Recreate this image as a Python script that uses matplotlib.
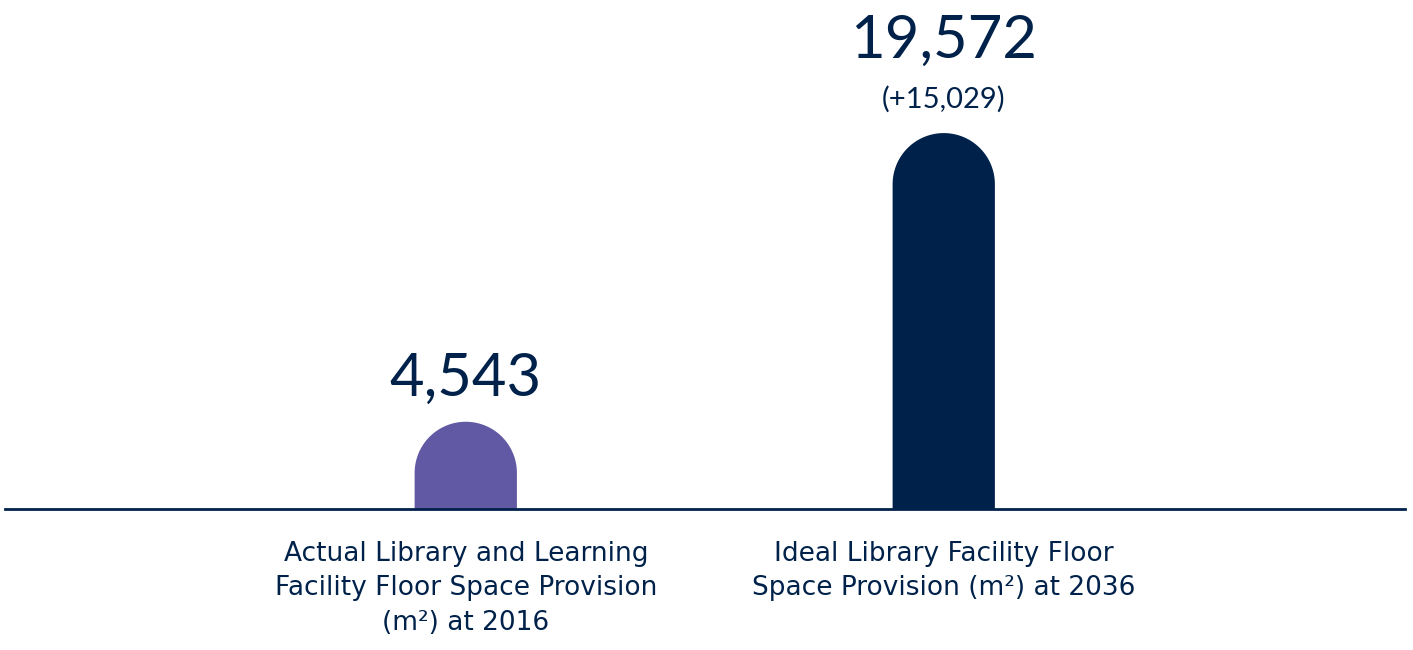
import numpy as np
import matplotlib.pyplot as plt
from matplotlib.path import Path
from matplotlib.patches import PathPatch

plt.rcParams['font.family'] = ['DejaVu Sans']

categories = ['Actual Library and Learning\nFacility Floor Space Provision\n(m²) at 2016',
              'Ideal Library Facility Floor\nSpace Provision (m²) at 2036']
values = [4543, 19572]
value_labels = ['4,543', '19,572']
change_labels = ['', '(+15,029)']
colors = ['#6159A3', '#00224A']
navy = '#00224A'

W, H = 1413, 650
fig = plt.figure(figsize=(W / 100, H / 100), dpi=100)
# axes: baseline spine at y=509px from top, spanning x 5..1405
ax = fig.add_axes([5 / W, (H - 509) / H, 1400 / W, 509 / H])

x = [0, 1]
bar_w = 0.214
xmin, xmax = -0.964, 1.965
ymax = 26500
ax.set_xlim(xmin, xmax)
ax.set_ylim(0, ymax)

# pixel scales so the rounded tops are true semicircles
px_x = 1400 / (xmax - xmin)
px_y = 509 / ymax
r_x = bar_w / 2
r_y = r_x * px_x / px_y


def rounded_bar(xc, top, color):
    t = np.linspace(0, np.pi, 60)
    arc_x = xc + r_x * np.cos(t)
    arc_y = top - r_y + r_y * np.sin(t)
    verts = [(xc - r_x, 0), (xc + r_x, 0)] + list(zip(arc_x, arc_y)) + [(xc - r_x, 0)]
    codes = [Path.MOVETO] + [Path.LINETO] * (len(verts) - 2) + [Path.CLOSEPOLY]
    ax.add_patch(PathPatch(Path(verts, codes), facecolor=color, lw=0))


for xi, v, c in zip(x, values, colors):
    rounded_bar(xi, v, c)

num_font = ['Lato', 'DejaVu Sans']
for xi, v, lab, ch in zip(x, values, value_labels, change_labels):
    if ch:
        ax.annotate(ch, (xi, v), xytext=(0, 18), textcoords='offset points',
                    ha='center', va='baseline', fontsize=21, color=navy, family=num_font)
        ax.annotate(lab, (xi, v), xytext=(0, 54), textcoords='offset points',
                    ha='center', va='baseline', fontsize=43, color=navy, family=num_font)
    else:
        ax.annotate(lab, (xi, v), xytext=(0, 19), textcoords='offset points',
                    ha='center', va='baseline', fontsize=43, color=navy, family=num_font)

ax.set_xticks(x)
ax.set_xticklabels(categories, fontsize=19, color=navy, linespacing=1.42)
ax.tick_params(axis='x', length=0, pad=23)
ax.set_yticks([])
for s in ['top', 'right', 'left']:
    ax.spines[s].set_visible(False)
ax.spines['bottom'].set_color(navy)
ax.spines['bottom'].set_linewidth(2)
ax.patch.set_alpha(0)

fig.savefig('out.png', dpi=100)
